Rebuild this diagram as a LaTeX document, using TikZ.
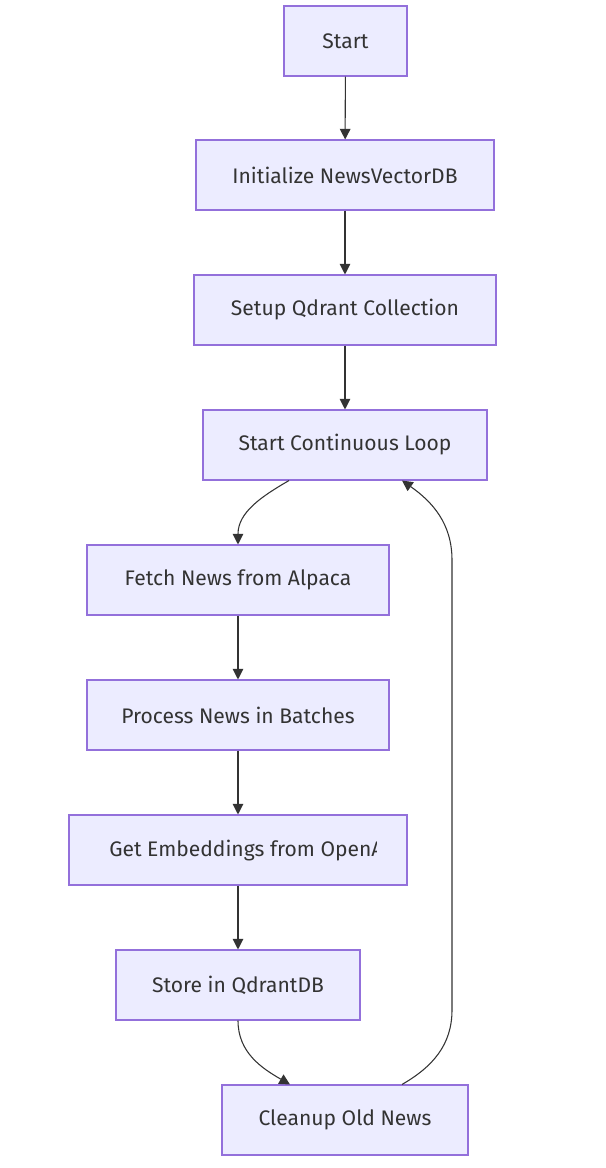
\documentclass[tikz,border=0pt]{standalone}
\usepackage{fontspec}
\setmainfont{Fira Sans}
\usepackage{tikz}
\usetikzlibrary{arrows.meta,calc}
\definecolor{boxfill}{HTML}{ECECFF}
\definecolor{boxline}{HTML}{9370DB}
\definecolor{edgegray}{HTML}{333333}

\begin{document}
\begin{tikzpicture}[x=0.75pt, y=-0.75pt,
		box/.style={draw=boxline, fill=boxfill, line width=0.8pt, minimum height=52.5pt, inner sep=0pt, text=edgegray, font=\fontsize{15.8}{18}\selectfont},
		label/.style={inner sep=0pt, text=edgegray, font=\fontsize{15.8}{18}\selectfont},
		flow/.style={draw=edgegray, line width=0.8pt, -{Triangle[length=8pt,width=8pt]}}]
			\useasboundingbox (0,0) rectangle (606,1168);
			\node[box, minimum width=92.25pt] (start) at (345.5,41) {Start};
			\node[box, minimum width=223.5pt] (init) at (345,175) {Initialize NewsVectorDB};
			\node[box, minimum width=226.5pt] (setup) at (345,310) {Setup Qdrant Collection};
			\node[box, minimum width=213pt] (loop) at (345,445) {Start Continuous Loop};
			\node[box, minimum width=226.5pt] (fetch) at (238,580) {Fetch News from Alpaca};
			\node[box, minimum width=226.5pt] (batch) at (238,715) {Process News in Batches};
			\node[box, minimum width=253.5pt] (embed) at (238,850) {};
			\begin{scope}
				\clip (embed.south west) rectangle (376,815);
				\node[label, anchor=west] (embedtext) at (109,851) {Get Embeddings from OpenAI};
			\end{scope}
			\node[box, minimum width=183pt] (store) at (238,985) {Store in QdrantDB};
			\node[box, minimum width=184.5pt] (clean) at (345,1120) {Cleanup Old News};
			% main chain
			\draw[flow] (start) -- (init);
			\draw[flow] (init) -- (setup);
			\draw[flow] (setup) -- (loop);
			\draw[flow] ($(loop.south)+(-56,0)$) to[out=-150,in=90] (fetch.north);
			\draw[flow] (fetch) -- (batch);
			\draw[flow] (batch) -- (embed);
			\draw[flow] (embed) -- (store);
			\draw[flow] (store.south) to[out=-90,in=150] ($(clean.north)+(-55,0)$);
			% back to the loop
			\coordinate (backlow) at (452,1010);
			\coordinate (backhigh) at (452,560);
			\draw[flow] ($(clean.north)+(57,0)$) to[out=30,in=-90] (backlow) -- (backhigh) to[out=90,in=-35] ($(loop.south)+(57,0)$);
		\end{tikzpicture}
\end{document}
